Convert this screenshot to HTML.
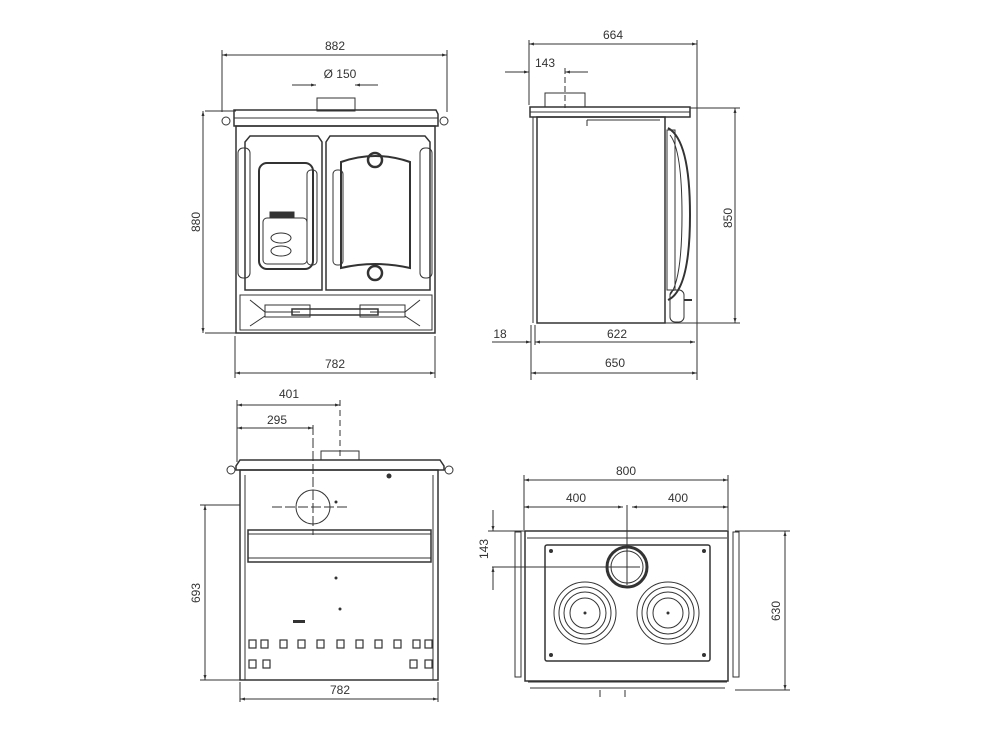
<!DOCTYPE html>
<html><head><meta charset="utf-8"><style>
html,body{margin:0;padding:0;background:#fff}
svg{display:block}
text{font-family:"Liberation Sans",sans-serif;font-size:12px;fill:#333}
</style></head><body>
<svg width="1000" height="750" viewBox="0 0 1000 750" xmlns="http://www.w3.org/2000/svg">
<defs>
<marker id="a" viewBox="0 0 10 10" refX="10" refY="5" markerWidth="7" markerHeight="5" orient="auto-start-reverse"><path d="M0,2 L10,5 L0,8z" fill="#333"/></marker>
</defs>
<g stroke="#333" stroke-width="1" fill="none">
<!-- FRONT VIEW -->
<line x1="222" y1="55" x2="447" y2="55" marker-start="url(#a)" marker-end="url(#a)"/>
<line x1="222" y1="50" x2="222" y2="112"/><line x1="447" y1="50" x2="447" y2="112"/>
<line x1="292" y1="85" x2="316" y2="85" marker-end="url(#a)"/><line x1="378" y1="85" x2="355" y2="85" marker-end="url(#a)"/>
<rect x="317" y="98" width="38" height="13"/>
<path d="M234,110 H436 L438,114 V126 H234 V114z" stroke-width="1.5"/>
<line x1="234" y1="118" x2="438" y2="118"/>
<circle cx="226" cy="121" r="4"/><circle cx="444" cy="121" r="4"/>
<rect x="236" y="126" width="199" height="207" stroke-width="1.5"/>
<path d="M245,142 L250,136 H318 L322,142 V290 H245z" stroke-width="1.5"/>
<path d="M326,142 L330,136 H425 L430,142 V290 H326z" stroke-width="1.5"/>
<rect x="259" y="163" width="54" height="106" rx="8" stroke-width="2"/>
<rect x="263" y="218" width="44" height="46" rx="4"/>
<rect x="270" y="212" width="24" height="5" fill="#333"/>
<ellipse cx="281" cy="238" rx="10" ry="5"/><ellipse cx="281" cy="251" rx="10" ry="5"/>
<path d="M341,162 Q375,150 410,162 V268 Q375,260 341,268z" stroke-width="2"/>
<circle cx="375" cy="160" r="7" stroke-width="2.5"/><circle cx="375" cy="273" r="7" stroke-width="2.5"/>
<rect x="238" y="148" width="12" height="130" rx="5"/><rect x="420" y="148" width="12" height="130" rx="5"/>
<rect x="307" y="170" width="10" height="95" rx="4"/><rect x="333" y="170" width="10" height="95" rx="4"/>
<path d="M240,295 H432 V330 H240z"/>
<path d="M250,300 L265,312 H300 M420,300 L405,312 H370 M250,326 L265,316 M420,326 L405,316"/>
<rect x="265" y="305" width="45" height="12"/><rect x="360" y="305" width="45" height="12"/>
<rect x="292" y="309" width="86" height="6" stroke-width="1.5"/>
<line x1="205" y1="111" x2="236" y2="111"/><line x1="205" y1="333" x2="236" y2="333"/>
<line x1="203" y1="111" x2="203" y2="333" marker-start="url(#a)" marker-end="url(#a)"/>
<line x1="235" y1="336" x2="235" y2="378"/><line x1="435" y1="336" x2="435" y2="378"/>
<line x1="235" y1="373" x2="435" y2="373" marker-start="url(#a)" marker-end="url(#a)"/>
<!-- SIDE VIEW -->
<line x1="529" y1="44" x2="697" y2="44" marker-start="url(#a)" marker-end="url(#a)"/>
<line x1="529" y1="40" x2="529" y2="105"/><line x1="697" y1="40" x2="697" y2="380"/>
<line x1="505" y1="72" x2="529" y2="72" marker-end="url(#a)"/><line x1="588" y1="72" x2="565" y2="72" marker-end="url(#a)"/>
<line x1="565" y1="68" x2="565" y2="108" stroke-dasharray="6,3"/>
<rect x="545" y="93" width="40" height="14"/>
<rect x="530" y="107" width="160" height="10" stroke-width="1.5"/>
<line x1="530" y1="112" x2="690" y2="112"/>
<rect x="537" y="117" width="128" height="206" stroke-width="1.5"/>
<line x1="533" y1="117" x2="533" y2="323"/>
<path d="M587,120 V126 M587,120 H660"/>
<path d="M668,128 Q690,140 690,215 Q690,290 668,300" stroke-width="2"/>
<path d="M670,135 Q682,150 682,215 Q682,280 670,295"/>
<rect x="667" y="130" width="8" height="160"/>
<rect x="670" y="290" width="14" height="32" rx="5"/>
<line x1="684" y1="300" x2="692" y2="300" stroke-width="2"/>
<line x1="690" y1="108" x2="740" y2="108"/><line x1="665" y1="323" x2="740" y2="323"/>
<line x1="735" y1="108" x2="735" y2="323" marker-start="url(#a)" marker-end="url(#a)"/>
<line x1="531" y1="325" x2="531" y2="380"/><line x1="535" y1="325" x2="535" y2="345"/>
<line x1="492" y1="342" x2="531" y2="342" marker-end="url(#a)"/>
<line x1="535" y1="342" x2="695" y2="342" marker-start="url(#a)" marker-end="url(#a)"/>
<line x1="531" y1="373" x2="697" y2="373" marker-start="url(#a)" marker-end="url(#a)"/>
<!-- BACK VIEW -->
<line x1="237" y1="405" x2="340" y2="405" marker-start="url(#a)" marker-end="url(#a)"/>
<line x1="237" y1="428" x2="313" y2="428" marker-start="url(#a)" marker-end="url(#a)"/>
<line x1="237" y1="400" x2="237" y2="462"/>
<line x1="340" y1="400" x2="340" y2="460" stroke-dasharray="6,4"/>
<line x1="313" y1="425" x2="313" y2="535" stroke-dasharray="10,3"/>
<rect x="321" y="451" width="38" height="9"/>
<path d="M240,460 H440 L444,466 V470 H236 V466z" stroke-width="1.5"/>
<circle cx="231" cy="470" r="4"/><circle cx="449" cy="470" r="4"/>
<rect x="240" y="470" width="198" height="210" stroke-width="1.5"/>
<line x1="245" y1="475" x2="245" y2="680"/><line x1="433" y1="475" x2="433" y2="680"/>
<circle cx="313" cy="507" r="17"/>
<line x1="272" y1="507" x2="348" y2="507" stroke-dasharray="10,3"/>
<rect x="248" y="530" width="183" height="32" stroke-width="1.5"/>
<line x1="248" y1="534" x2="431" y2="534"/><line x1="248" y1="558" x2="431" y2="558"/>
<g stroke-width="1.2">
<rect x="249" y="640" width="7" height="8"/><rect x="261" y="640" width="7" height="8"/><rect x="280" y="640" width="7" height="8"/><rect x="298" y="640" width="7" height="8"/><rect x="317" y="640" width="7" height="8"/><rect x="337" y="640" width="7" height="8"/><rect x="356" y="640" width="7" height="8"/><rect x="375" y="640" width="7" height="8"/><rect x="394" y="640" width="7" height="8"/><rect x="413" y="640" width="7" height="8"/><rect x="425" y="640" width="7" height="8"/>
<rect x="249" y="660" width="7" height="8"/><rect x="263" y="660" width="7" height="8"/><rect x="410" y="660" width="7" height="8"/><rect x="425" y="660" width="7" height="8"/>
</g>
<line x1="200" y1="505" x2="240" y2="505"/><line x1="200" y1="680" x2="240" y2="680"/>
<line x1="205" y1="505" x2="205" y2="680" marker-start="url(#a)" marker-end="url(#a)"/>
<line x1="240" y1="682" x2="240" y2="702"/><line x1="438" y1="682" x2="438" y2="702"/>
<line x1="240" y1="699" x2="438" y2="699" marker-start="url(#a)" marker-end="url(#a)"/>
<!-- TOP VIEW -->
<line x1="524" y1="480" x2="728" y2="480" marker-start="url(#a)" marker-end="url(#a)"/>
<line x1="524" y1="507" x2="623" y2="507" marker-start="url(#a)" marker-end="url(#a)"/>
<line x1="632" y1="507" x2="728" y2="507" marker-start="url(#a)" marker-end="url(#a)"/>
<line x1="524" y1="475" x2="524" y2="530"/><line x1="728" y1="475" x2="728" y2="530"/>
<line x1="627" y1="505" x2="627" y2="585"/>
<rect x="515" y="532" width="6" height="145"/><rect x="733" y="532" width="6" height="145"/>
<rect x="525" y="531" width="203" height="150" stroke-width="1.5"/>
<line x1="527" y1="538" x2="727" y2="538"/>
<rect x="545" y="545" width="165" height="116" rx="2" stroke-width="1.5"/>
<circle cx="627" cy="567" r="20" stroke-width="3"/>
<circle cx="627" cy="567" r="16"/>
<line x1="492" y1="567" x2="640" y2="567"/>
<circle cx="585" cy="613" r="31"/><circle cx="585" cy="613" r="26"/><circle cx="585" cy="613" r="21"/><circle cx="585" cy="613" r="15"/>
<circle cx="668" cy="613" r="31"/><circle cx="668" cy="613" r="26"/><circle cx="668" cy="613" r="21"/><circle cx="668" cy="613" r="15"/>
<path d="M528,682 H727 M530,688 H725 M600,690 V697 M625,690 V697"/>
<line x1="488" y1="531" x2="525" y2="531"/>
<line x1="493" y1="510" x2="493" y2="531" marker-end="url(#a)"/>
<line x1="493" y1="590" x2="493" y2="567" marker-end="url(#a)"/>
<line x1="735" y1="531" x2="790" y2="531"/><line x1="735" y1="690" x2="790" y2="690"/>
<line x1="785" y1="531" x2="785" y2="690" marker-start="url(#a)" marker-end="url(#a)"/>
</g>
<g fill="#333">
<circle cx="551" cy="551" r="2"/><circle cx="704" cy="551" r="2"/><circle cx="551" cy="655" r="2"/><circle cx="704" cy="655" r="2"/>
<circle cx="585" cy="613" r="1.5"/><circle cx="668" cy="613" r="1.5"/>
<circle cx="389" cy="476" r="2.5"/><circle cx="336" cy="502" r="1.5"/><circle cx="336" cy="578" r="1.5"/><circle cx="340" cy="609" r="1.5"/>
<rect x="293" y="620" width="12" height="3"/>
</g>
<text x="335" y="50" text-anchor="middle">882</text>
<text x="340" y="78" text-anchor="middle">Ø 150</text>
<text x="200" y="222" text-anchor="middle" transform="rotate(-90 200 222)">880</text>
<text x="335" y="368" text-anchor="middle">782</text>
<text x="613" y="39" text-anchor="middle">664</text>
<text x="545" y="67" text-anchor="middle">143</text>
<text x="732" y="218" text-anchor="middle" transform="rotate(-90 732 218)">850</text>
<text x="500" y="338" text-anchor="middle">18</text>
<text x="617" y="338" text-anchor="middle">622</text>
<text x="615" y="367" text-anchor="middle">650</text>
<text x="289" y="398" text-anchor="middle">401</text>
<text x="277" y="424" text-anchor="middle">295</text>
<text x="200" y="593" text-anchor="middle" transform="rotate(-90 200 593)">693</text>
<text x="340" y="694" text-anchor="middle">782</text>
<text x="626" y="475" text-anchor="middle">800</text>
<text x="576" y="502" text-anchor="middle">400</text>
<text x="678" y="502" text-anchor="middle">400</text>
<text x="488" y="549" text-anchor="middle" transform="rotate(-90 488 549)">143</text>
<text x="780" y="611" text-anchor="middle" transform="rotate(-90 780 611)">630</text>
</svg>
</body></html>
